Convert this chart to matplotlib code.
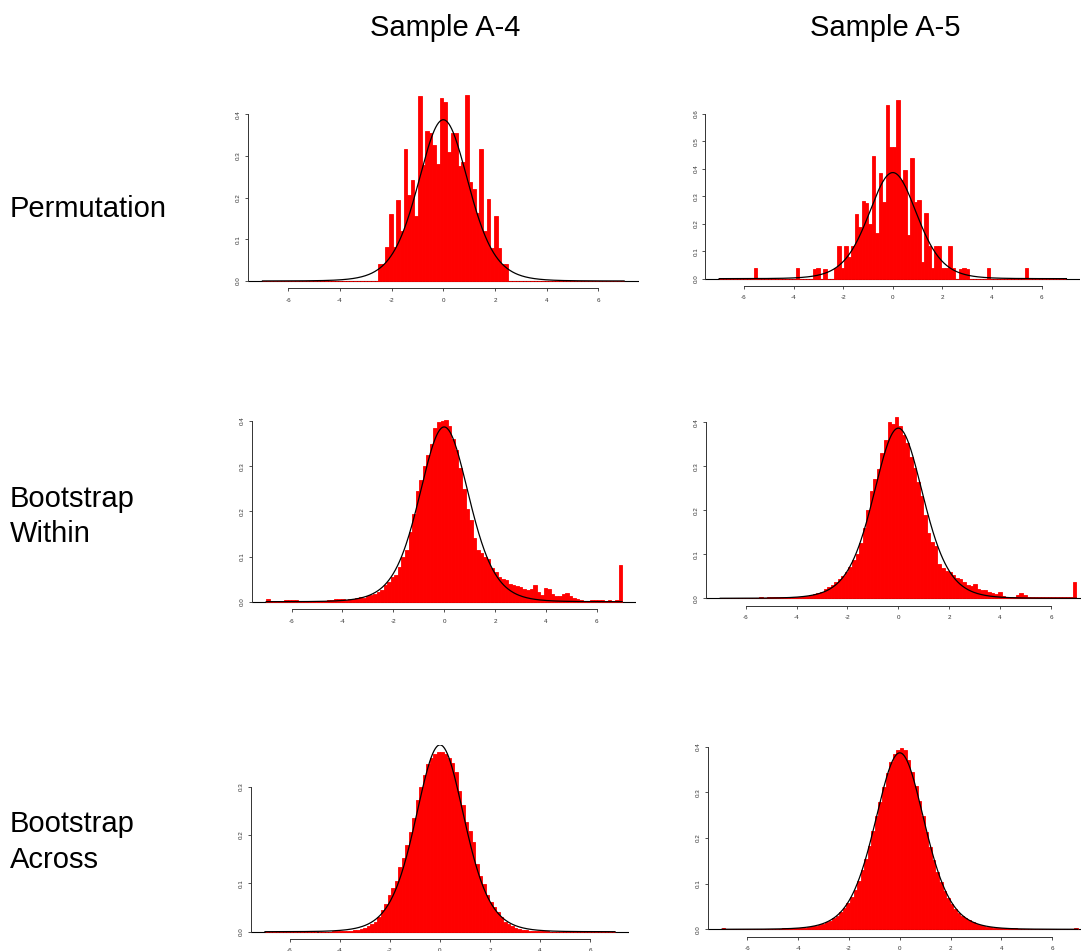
import numpy as np
import matplotlib
matplotlib.use("Agg")
import matplotlib.pyplot as plt
from math import gamma, sqrt, pi

plt.rcParams['font.family'] = ['Liberation Sans', 'DejaVu Sans']

# 100 equal bins on [-7, 7]; heights are densities per bin
bin_edges = np.linspace(-7, 7, 101)

sample_names = ["Sample A-4", "Sample A-5"]
method_names = [["Permutation"], ["Bootstrap", "Within"], ["Bootstrap", "Across"]]

perm_a4 = [
    0, 0, 0, 0, 0, 0, 0, 0, 0, 0,
    0, 0, 0, 0, 0, 0, 0, 0, 0, 0,
    0, 0, 0, 0, 0, 0, 0, 0, 0, 0,
    0, 0, 0.041, 0.041, 0.082, 0.160, 0.082, 0.195, 0.120, 0.317,
    0.205, 0.243, 0.155, 0.443, 0.278, 0.360, 0.355, 0.327, 0.280, 0.440,
    0.430, 0.310, 0.355, 0.355, 0.275, 0.285, 0.445, 0.238, 0.220, 0.163,
    0.317, 0.120, 0.197, 0.080, 0.157, 0.080, 0.041, 0.041, 0, 0,
    0, 0, 0, 0, 0, 0, 0, 0, 0, 0,
    0, 0, 0, 0, 0, 0, 0, 0, 0, 0,
    0, 0, 0, 0, 0, 0, 0, 0, 0, 0,
]

perm_a5 = [
    0, 0, 0, 0, 0, 0, 0, 0, 0, 0,
    0.040, 0, 0, 0, 0, 0, 0, 0, 0, 0,
    0, 0, 0.040, 0, 0, 0, 0, 0.035, 0.040, 0,
    0.035, 0, 0, 0.040, 0.120, 0.040, 0.120, 0.080, 0.120, 0.234,
    0.190, 0.283, 0.275, 0.200, 0.446, 0.165, 0.386, 0.280, 0.634, 0.479,
    0.479, 0.651, 0.360, 0.396, 0.160, 0.439, 0.280, 0.287, 0.060, 0.240,
    0.120, 0.040, 0.120, 0.120, 0.040, 0.040, 0.120, 0.040, 0, 0.035,
    0.040, 0.035, 0, 0, 0, 0, 0, 0.040, 0, 0,
    0, 0, 0, 0, 0, 0, 0, 0, 0.040, 0,
    0, 0, 0, 0, 0, 0, 0, 0, 0, 0,
]

within_a4 = [
    0.005, 0.002, 0.002, 0.002, 0.002, 0.003, 0.004, 0.004, 0.003, 0.002,
    0.002, 0.002, 0.002, 0.002, 0.002, 0.002, 0.002, 0.003, 0.004, 0.005,
    0.007, 0.006, 0.004, 0.005, 0.007, 0.009, 0.010, 0.009, 0.012, 0.015,
    0.018, 0.022, 0.027, 0.036, 0.044, 0.055, 0.060, 0.076, 0.098, 0.115,
    0.155, 0.195, 0.245, 0.270, 0.300, 0.325, 0.350, 0.385, 0.398, 0.400,
    0.403, 0.388, 0.360, 0.335, 0.295, 0.250, 0.205, 0.180, 0.140, 0.115,
    0.108, 0.100, 0.095, 0.075, 0.065, 0.055, 0.050, 0.047, 0.040, 0.036,
    0.035, 0.033, 0.028, 0.026, 0.028, 0.037, 0.022, 0.015, 0.030, 0.029,
    0.018, 0.012, 0.013, 0.016, 0.019, 0.012, 0.008, 0.005, 0.003, 0.002,
    0.002, 0.003, 0.004, 0.003, 0.003, 0.002, 0.003, 0.002, 0.003, 0.082,
]

within_a5 = [
    0.001, 0.001, 0.001, 0.001, 0.001, 0.001, 0.001, 0.001, 0.001, 0.001,
    0.001, 0.002, 0.001, 0.002, 0.002, 0.002, 0.002, 0.002, 0.002, 0.003,
    0.003, 0.003, 0.003, 0.005, 0.006, 0.007, 0.009, 0.011, 0.015, 0.022,
    0.026, 0.030, 0.038, 0.045, 0.050, 0.060, 0.072, 0.088, 0.100, 0.125,
    0.160, 0.200, 0.245, 0.272, 0.295, 0.330, 0.360, 0.400, 0.396, 0.413,
    0.392, 0.370, 0.352, 0.322, 0.296, 0.265, 0.232, 0.190, 0.148, 0.128,
    0.120, 0.078, 0.068, 0.062, 0.060, 0.052, 0.047, 0.043, 0.036, 0.030,
    0.028, 0.032, 0.022, 0.018, 0.020, 0.014, 0.012, 0.010, 0.015, 0.006,
    0.004, 0.003, 0.004, 0.008, 0.012, 0.007, 0.004, 0.003, 0.002, 0.002,
    0.003, 0.004, 0.004, 0.003, 0.003, 0.002, 0.002, 0.002, 0.002, 0.037,
]

across_a4 = [
    0, 0, 0, 0, 0, 0, 0, 0, 0, 0,
    0, 0, 0, 0, 0, 0, 0, 0, 0, 0.001,
    0.001, 0.001, 0.001, 0.002, 0.002, 0.003, 0.004, 0.006, 0.008, 0.011,
    0.015, 0.021, 0.031, 0.045, 0.058, 0.075, 0.090, 0.105, 0.134, 0.152,
    0.180, 0.207, 0.235, 0.272, 0.300, 0.325, 0.348, 0.360, 0.368, 0.372,
    0.372, 0.368, 0.360, 0.350, 0.330, 0.292, 0.262, 0.228, 0.208, 0.186,
    0.140, 0.116, 0.098, 0.075, 0.062, 0.052, 0.040, 0.030, 0.021, 0.015,
    0.011, 0.008, 0.006, 0.004, 0.003, 0.002, 0.002, 0.001, 0.001, 0.001,
    0.001, 0, 0, 0, 0, 0, 0, 0, 0, 0,
    0, 0, 0, 0, 0, 0, 0, 0, 0, 0,
]

across_a5 = [
    0.003, 0, 0, 0.001, 0, 0.001, 0, 0.001, 0.001, 0,
    0.001, 0.001, 0.001, 0.001, 0.001, 0.001, 0.001, 0.002, 0.002, 0.002,
    0.003, 0.003, 0.003, 0.004, 0.005, 0.007, 0.008, 0.010, 0.012, 0.015,
    0.019, 0.024, 0.029, 0.037, 0.046, 0.058, 0.071, 0.087, 0.106, 0.130,
    0.155, 0.183, 0.215, 0.248, 0.280, 0.312, 0.342, 0.366, 0.384, 0.392,
    0.398, 0.392, 0.370, 0.345, 0.314, 0.281, 0.248, 0.214, 0.181, 0.152,
    0.126, 0.104, 0.085, 0.069, 0.056, 0.045, 0.036, 0.029, 0.024, 0.020,
    0.015, 0.012, 0.010, 0.008, 0.006, 0.005, 0.004, 0.003, 0.003, 0.003,
    0.002, 0.002, 0.002, 0.001, 0.001, 0.001, 0.001, 0.001, 0.001, 0.001,
    0.001, 0, 0.001, 0, 0.001, 0, 0.001, 0, 0, 0.003,
]

heights = [[perm_a4, perm_a5], [within_a4, within_a5], [across_a4, across_a5]]
y_tick_max = [[0.4, 0.6], [0.4, 0.4], [0.3, 0.4]]
x_ticks = [-6, -4, -2, 0, 2, 4, 6]

# reference curve: Student t density
t_df = 8


def t_density(x, df):
    c = gamma((df + 1) / 2) / (sqrt(df * pi) * gamma(df / 2))
    return c * (1 + x ** 2 / df) ** (-(df + 1) / 2)


W, H = 1081, 951
# plot regions in pixels: (left, right, top, bottom)
rects = [
    [(248.0, 638.6, 88.0, 288.4), (705.3, 1080.3, 92.9, 285.8)],
    [(252.0, 636.3, 412.3, 609.0), (706.0, 1090.6, 409.3, 605.6)],
    [(251.0, 629.0, 744.8, 938.9), (707.6, 1092.0, 740.4, 936.6)],
]

fig = plt.figure(figsize=(W / 100, H / 100), dpi=100)

centers = (bin_edges[:-1] + bin_edges[1:]) / 2
width = bin_edges[1] - bin_edges[0]
xs = np.linspace(-7, 7, 500)

for r in range(3):
    for c in range(2):
        l, rt, t, b = rects[r][c]
        ax = fig.add_axes([l / W, 1 - b / H, (rt - l) / W, (b - t) / H])
        h = np.array(heights[r][c])
        ymax = h.max()
        ax.axhline(0, color='black', lw=0.8, zorder=1)
        ax.bar(centers, h, width=width, color='red', edgecolor='red',
               linewidth=0.6, zorder=2)
        ax.plot(xs, t_density(xs, t_df), color='black', lw=0.9, zorder=3)
        ax.set_xlim(-7.56, 7.56)
        ax.set_ylim(-0.04 * ymax, 1.04 * ymax)

        yt = np.round(np.arange(0, y_tick_max[r][c] + 1e-9, 0.1), 1)
        ax.set_yticks(yt)
        ax.set_yticklabels([f"{v:.1f}" for v in yt], rotation=90, va='center')
        ax.set_xticks(x_ticks)
        ax.set_xticklabels([str(v) for v in x_ticks])

        for s in ['top', 'right']:
            ax.spines[s].set_visible(False)
        ax.spines['left'].set_bounds(0, y_tick_max[r][c])
        ax.spines['bottom'].set_bounds(-6, 6)
        for s in ['left', 'bottom']:
            ax.spines[s].set_linewidth(0.7)
            ax.spines[s].set_color('#333333')
        ax.tick_params(direction='out', length=2.4, width=0.6,
                       labelsize=4.5, colors='#333333')
        ax.tick_params(axis='x', pad=4.5)
        ax.tick_params(axis='y', pad=2.5)
        ax.patch.set_visible(False)

# column titles
for name, xc in zip(sample_names, [445, 885]):
    fig.text(xc / W, 1 - 36 / H, name, ha='center', va='baseline', fontsize=21)

# row labels
row_baselines = [[216.7], [506.7, 541.7], [832.5, 867.5]]
for lines, bases in zip(method_names, row_baselines):
    for txt, yb in zip(lines, bases):
        fig.text(10 / W, 1 - yb / H, txt, ha='left', va='baseline', fontsize=21)

fig.savefig("out.png", dpi=100)
